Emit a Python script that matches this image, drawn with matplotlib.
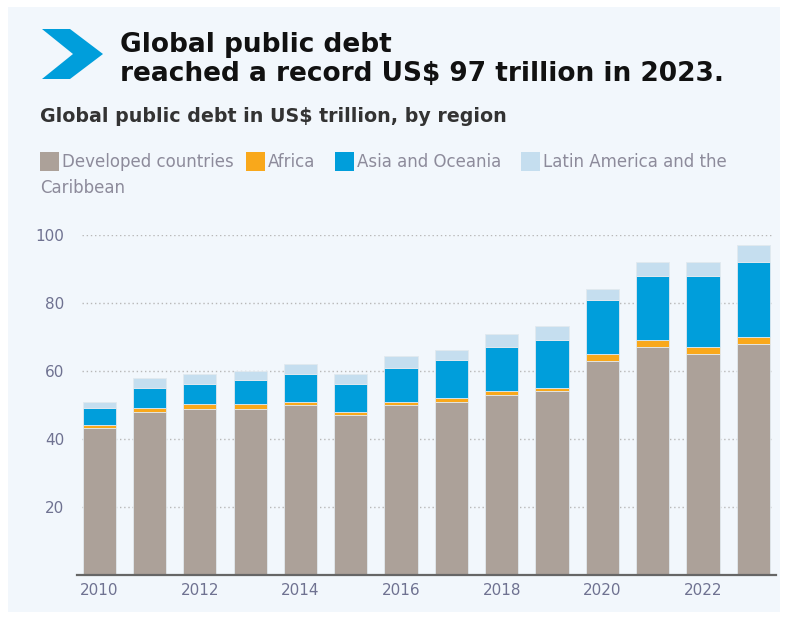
import matplotlib
matplotlib.use("Agg")
import matplotlib.pyplot as plt
from matplotlib.patches import Rectangle, Polygon
import numpy as np

years = [2010, 2011, 2012, 2013, 2014, 2015, 2016, 2017, 2018, 2019, 2020, 2021, 2022, 2023]
developed = [43.1, 47.9, 48.9, 48.9, 50.1, 47.2, 50.1, 51.0, 53.0, 54.1, 62.9, 67.1, 65.0, 67.9]
africa = [1.1, 1.1, 1.3, 1.3, 0.8, 0.7, 0.8, 1.0, 1.1, 0.8, 2.0, 1.9, 2.1, 2.2]
asia_oceania = [4.8, 5.9, 6.0, 7.1, 8.1, 8.3, 10.0, 11.1, 13.1, 14.1, 16.0, 18.9, 20.8, 21.9]
latin_america = [1.9, 3.0, 2.9, 2.8, 3.1, 2.8, 3.4, 3.0, 3.7, 4.1, 3.3, 4.1, 4.1, 5.2]

series_names = ["Developed countries", "Africa", "Asia and Oceania", "Latin America and the\nCaribbean"]
series_colors = ["#aca199", "#f9a81b", "#009edb", "#c5deef"]
yticks = [20, 40, 60, 80, 100]
xticks = [2010, 2012, 2014, 2016, 2018, 2020, 2022]

title_lines = ["Global public debt", "reached a record US$ 97 trillion in 2023."]
subtitle = "Global public debt in US$ trillion, by region"

W, H = 787, 619
fig = plt.figure(figsize=(W / 100, H / 100), dpi=100)
fig.patch.set_facecolor("white")
FONT = "DejaVu Sans"
renderer = fig.canvas.get_renderer()

def fx(px):
    return px / W

def fy(py):
    return 1 - py / H

def fit_text(px, py, s, target_w, size, **kw):
    t = fig.text(fx(px), fy(py), s, fontsize=size, va="center", ha="left", **kw)
    w = t.get_window_extent(renderer).width
    t.set_fontsize(size * target_w / w)
    return t

# panel background
fig.patches.append(Rectangle((fx(8), fy(612)), fx(780) - fx(8), fy(7) - fy(612),
                             transform=fig.transFigure, facecolor="#f2f7fc", edgecolor="none", zorder=-10))

# chevron icon
chev = [(42, 29), (70, 29), (103, 54), (70, 79), (42, 79), (73, 54)]
fig.patches.append(Polygon([(fx(a), fy(b)) for a, b in chev], closed=True,
                           transform=fig.transFigure, facecolor="#009edb", edgecolor="none", zorder=-5))

tsize = fit_text(120, 74, title_lines[1], 607, 18, fontweight="bold", family=FONT,
                 color="#111111").get_fontsize()
fig.text(fx(120), fy(45), title_lines[0], fontsize=tsize, fontweight="bold", family=FONT,
         color="#111111", va="center", ha="left")
fit_text(40, 116, subtitle, 463, 12, fontweight="bold", family=FONT, color="#333333")

# legend (manual)
leg_color = "#8d8b9b"
leg_items = [(40, 162), (246, 162), (335, 162), (521, 162)]
for (px, py), name, col in zip(leg_items, series_names, series_colors):
    fig.patches.append(Rectangle((fx(px), fy(py + 9)), fx(19), 19 / H, transform=fig.transFigure,
                                 facecolor=col, edgecolor="none"))
    first, *rest = name.split("\n")
    fig.text(fx(px + 22), fy(py), first, fontsize=12, family=FONT, color=leg_color,
             va="center", ha="left")
    for i, r in enumerate(rest):
        fig.text(fx(40), fy(py + 26 * (i + 1)), r, fontsize=12, family=FONT, color=leg_color,
                 va="center", ha="left")

ax = fig.add_axes([fx(77), 44 / H, (776 - 77) / W, 340 / H])
ax.set_facecolor("none")

x = np.array(years)
bottom = np.zeros(len(years))
for vals, col in zip([developed, africa, asia_oceania, latin_america], series_colors):
    ax.bar(x, vals, bottom=bottom, width=0.66, color=col, edgecolor="#e2e9ef", linewidth=0.6, zorder=3)
    bottom += np.array(vals)

ax.set_xlim(2009.56, 2023.45)
ax.set_ylim(0, 100)
ax.hlines(yticks, 2009.66, 2023.39, colors="#b8b8b8", linestyles=(0, (1, 2)), linewidth=1.0, zorder=1)

for s in ["top", "right", "left"]:
    ax.spines[s].set_visible(False)
ax.spines["bottom"].set_color("#666666")
ax.spines["bottom"].set_linewidth(1.6)
ax.spines["bottom"].set_zorder(4)

ax.set_yticks(yticks)
ax.set_yticklabels([str(v) for v in yticks])
ax.set_xticks(xticks)
ax.set_xticklabels([str(v) for v in xticks])
ax.tick_params(axis="both", length=0, labelsize=11, labelcolor="#6f7291")
ax.tick_params(axis="y", pad=9)
ax.tick_params(axis="x", pad=6)
for lab in ax.get_xticklabels() + ax.get_yticklabels():
    lab.set_family(FONT)

fig.savefig("out.png", dpi=100, facecolor=fig.get_facecolor())
